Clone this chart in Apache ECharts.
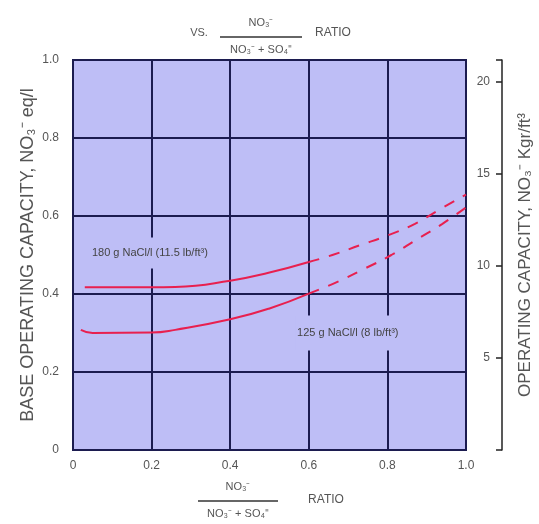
<!DOCTYPE html>
<html>
<head>
<meta charset="utf-8">
<script src="https://cdn.jsdelivr.net/npm/echarts@6/dist/echarts.min.js"></script>
<style>
  html, body { margin: 0; padding: 0; background: #fff; }
  #main { width: 539px; height: 524px; }
</style>
</head>
<body>
<div id="main"></div>
<script>
// curve readings, [ratio, eq/l]
var upperSolid = [[0.03, 0.417], [0.1, 0.417], [0.2, 0.417], [0.26, 0.418], [0.4, 0.434], [0.5, 0.455], [0.6, 0.482]];
var upperDashed = [[0.6, 0.482], [0.66, 0.5], [0.73, 0.525], [0.8, 0.55], [0.87, 0.58], [0.93, 0.615], [1.0, 0.655]];
var lowerSolid = [[0.02, 0.308], [0.05, 0.3], [0.2, 0.301], [0.26, 0.308], [0.4, 0.335], [0.5, 0.363], [0.6, 0.401]];
var lowerDashed = [[0.6, 0.401], [0.67, 0.43], [0.74, 0.464], [0.81, 0.5], [0.875, 0.54], [0.94, 0.58], [1.0, 0.622]];

var rightTicks = [0, 5, 10, 15, 20, 21.2];
var rightLabels = [5, 10, 15, 20];
var upperLabel = '180 g NaCl/l (11.5 lb/ft³)';
var lowerLabel = '125 g NaCl/l (8 lb/ft³)';
var upperLabelAt = [0.043, 0.505];
var lowerLabelAt = [0.565, 0.3];

var red = '#e8204f';
var navy = '#1c1c50';
var txt = '#555';
var plotBg = '#bebef6';

var chart = echarts.init(document.getElementById('main'));

function fmt(v) {
  if (v === 0) return '0';
  return v.toFixed(1);
}

chart.setOption({
  animation: false,
  textStyle: { fontFamily: 'Liberation Sans, Arial, sans-serif' },
  grid: {
    left: 73, right: 73, top: 60, bottom: 74, outerBoundsMode: 'none',
    show: true, backgroundColor: plotBg, borderColor: navy, borderWidth: 2
  },
  xAxis: {
    type: 'value', min: 0, max: 1, interval: 0.2,
    axisLine: { lineStyle: { color: navy, width: 2 } },
    axisTick: { show: false },
    axisLabel: { color: txt, fontSize: 12, margin: 10, formatter: fmt },
    splitLine: { lineStyle: { color: navy, width: 2 } }
  },
  yAxis: [{
    type: 'value', min: 0, max: 1, interval: 0.2,
    name: 'BASE OPERATING CAPACITY, NO₃⁻ eq/l',
    nameLocation: 'middle', nameRotate: 90, nameGap: 36, nameMoveOverlap: false,
    nameTextStyle: { color: txt, fontSize: 18 },
    axisLine: { show: true, lineStyle: { color: navy, width: 2 } },
    axisTick: { show: false },
    axisLabel: { color: txt, fontSize: 12, margin: 14, formatter: fmt },
    splitLine: { lineStyle: { color: navy, width: 2 } }
  }, {
    type: 'value', min: 0, max: 21.2, position: 'right', offset: 36,
    name: 'OPERATING CAPACITY, NO₃⁻ Kgr/ft³',
    nameLocation: 'middle', nameRotate: 90, nameGap: 15, nameMoveOverlap: false,
    nameTextStyle: { color: txt, fontSize: 17 },
    axisLine: { show: true, lineStyle: { color: '#222', width: 1.5 } },
    axisTick: { show: true, inside: true, length: 6, customValues: rightTicks, lineStyle: { color: '#222', width: 1.5 } },
    axisLabel: { inside: true, margin: 12, color: txt, fontSize: 12, customValues: rightLabels },
    splitLine: { show: false }
  }],
  series: [
    { type: 'line', data: upperSolid, smooth: true, symbol: 'none', lineStyle: { color: red, width: 2 } },
    { type: 'line', data: upperDashed, smooth: true, symbol: 'none', lineStyle: { color: red, width: 2, type: [11, 10] } },
    { type: 'line', data: lowerSolid, smooth: true, symbol: 'none', lineStyle: { color: red, width: 2 } },
    { type: 'line', data: lowerDashed, smooth: true, symbol: 'none', lineStyle: { color: red, width: 2, type: [11, 10] } }
  ]
});

var p1 = chart.convertToPixel({ gridIndex: 0 }, upperLabelAt);
var p2 = chart.convertToPixel({ gridIndex: 0 }, lowerLabelAt);

function frac(cx, cy, w) {
  return [
    { type: 'text', x: cx, y: cy - 14, style: { text: 'NO₃⁻', fill: txt, font: '11px Liberation Sans', align: 'center', verticalAlign: 'middle' } },
    { type: 'line', shape: { x1: cx - w / 2, y1: cy, x2: cx + w / 2, y2: cy }, style: { stroke: '#333', lineWidth: 1.5 } },
    { type: 'text', x: cx, y: cy + 13, style: { text: 'NO₃⁻ + SO₄⁼', fill: txt, font: '11px Liberation Sans', align: 'center', verticalAlign: 'middle' } }
  ];
}

var g = [];
g.push({ type: 'text', x: 199, y: 33, style: { text: 'VS.', fill: txt, font: '11px Liberation Sans', align: 'center', verticalAlign: 'middle' } });
g = g.concat(frac(261, 37, 82));
g.push({ type: 'text', x: 333, y: 33, style: { text: 'RATIO', fill: txt, font: '12px Liberation Sans', align: 'center', verticalAlign: 'middle' } });
g = g.concat(frac(238, 501, 80));
g.push({ type: 'text', x: 326, y: 500, style: { text: 'RATIO', fill: txt, font: '12px Liberation Sans', align: 'center', verticalAlign: 'middle' } });
g.push({ type: 'text', x: p1[0], y: p1[1], z: 5, style: { text: upperLabel, fill: '#444', font: '11px Liberation Sans', verticalAlign: 'middle', backgroundColor: plotBg, padding: [10, 2] } });
g.push({ type: 'text', x: p2[0], y: p2[1], z: 5, style: { text: lowerLabel, fill: '#444', font: '11px Liberation Sans', verticalAlign: 'middle', backgroundColor: plotBg, padding: [12, 2] } });

chart.setOption({ graphic: g });
</script>
</body>
</html>
